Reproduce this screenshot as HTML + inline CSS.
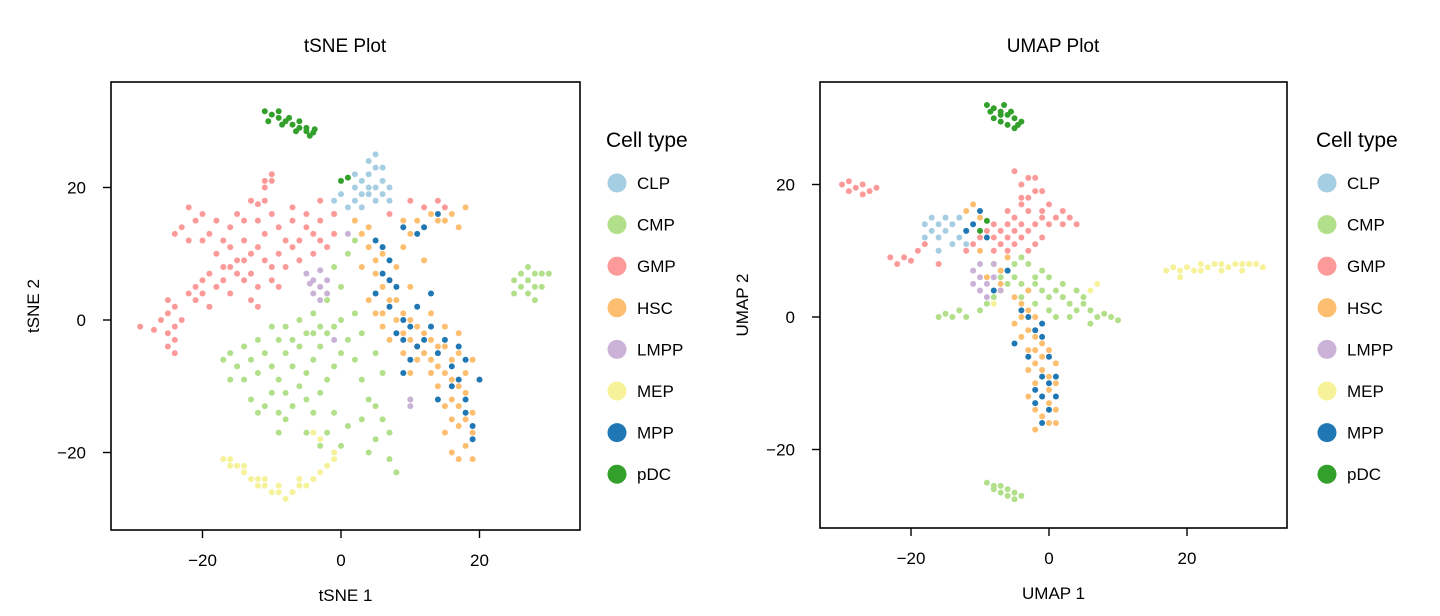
<!DOCTYPE html>
<html><head><meta charset="utf-8"><style>
html,body{margin:0;padding:0;background:#fff;}
svg{display:block;font-family:"Liberation Sans",Arial,sans-serif;}
</style></head><body>
<svg id="chart" width="1440" height="616" viewBox="0 0 1440 616">
<g id="left"></g>
<g id="right"></g>
</svg>
<script>
const cellTypes=["CLP","CMP","GMP","HSC","LMPP","MEP","MPP","pDC"];
const typeColors=["#A6CEE3","#B2DF8A","#FB9A99","#FDBF6F","#CAB2D6","#F5F29A","#1F78B4","#33A02C"];
const tsneTicks=[-20,0,20];
const umapTicks=[-20,0,20];
const tsneCLP=[[2,20],[3,21],[4,22],[5,23],[4,24],[5,25],[3,19],[4,19],[5,20],[6,21],[6,19],[2,18],[1,17],[-1,18],[3,17],[5,18],[7,20],[6,23],[4,20],[2,22],[0,19],[-1,16],[7,18]];
const tsneCMP=[[-17,-6],[-15,-7],[-13,-6],[-12,-8],[-14,-9],[-16,-9],[-11,-5],[-10,-7],[-9,-9],[-8,-11],[-10,-11],[-11,-13],[-9,-14],[-7,-13],[-6,-10],[-5,-8],[-4,-6],[-3,-4],[-2,-2],[-1,-1],[-3,-1],[-5,-2],[-7,-3],[-8,-1],[-6,0],[-4,1],[-2,3],[0,5],[-1,8],[1,10],[2,12],[-8,-5],[-9,-3],[-7,-7],[-5,-12],[-4,-14],[-3,-11],[-2,-9],[-1,-7],[0,-5],[1,-3],[2,-6],[3,-9],[4,-12],[5,-13],[6,-15],[7,-17],[7,-21],[8,-23],[3,-15],[1,-16],[0,-19],[-2,-17],[-1,-14],[-5,-17],[-3,-19],[-12,-14],[-13,-12],[-9,-17],[-8,-15],[-6,-4],[-4,-2],[0,0],[2,1],[3,-2],[5,-5],[6,-8],[5,-18],[4,-20],[-10,-1],[-12,-3],[-14,-4],[-16,-5],[25,6],[26,5],[27,4],[28,5],[27,6],[28,7],[29,7],[30,7],[26,7],[28,3],[27,8],[29,5],[25,4]];
const tsneGMP=[[-29,-1],[-27,-1.5],[-26,0],[-25,-2],[-24,-1],[-25,1],[-24,2],[-25,3],[-23,0],[-24,-3],[-25,-4],[-24,-5],[-22,4],[-21,5],[-20,6],[-19,7],[-20,4],[-18,5],[-17,6],[-16,8],[-15,9],[-14,9],[-13,10],[-12,11],[-11,9],[-13,7],[-12,5],[-10,8],[-9,10],[-8,12],[-7,11],[-6,12],[-5,14],[-4,13],[-3,12],[-2,11],[-1,13],[-6,9],[-8,8],[-15,7],[-17,8],[-18,10],[-16,11],[-14,12],[-11,13],[-9,14],[-7,15],[-5,16],[-3,15],[-1,16],[-10,16],[-12,15],[-14,15],[-16,14],[-18,15],[-20,16],[-22,17],[-21,15],[-19,13],[-23,14],[-24,13],[-22,12],[-20,12],[-17,12],[-15,16],[-13,18],[-12,17.5],[-11,18],[-10,21],[-11,21],[-10,22],[-11,20],[-16,4],[-14,6],[-10,6],[-9,5],[-12,2],[-13,3],[-21,3],[-19,2],[-7,17],[-3,18],[-4,10],[10,18],[12,17],[14,18],[15,17],[7,16]];
const tsneHSC=[[3,13],[4,11],[5,9],[6,10],[5,7],[6,5],[7,3],[6,1],[8,0],[9,-2],[10,-3],[11,-4],[12,-5],[13,-6],[14,-7],[15,-8],[16,-9],[17,-10],[18,-11],[17,-13],[18,-15],[19,-17],[18,-19],[17,-21],[19,-21],[16,-20],[15,-17],[16,-15],[17,-16],[18,-8],[19,-6],[17,-5],[15,-4],[13,-3],[11,-1],[9,1],[7,6],[8,8],[9,11],[10,13],[12,14],[14,15],[16,16],[13,16],[11,15],[9,15],[8,3],[10,0],[12,-2],[14,-4],[16,-6],[14,-10],[15,-13],[16,-12],[13,-8],[11,-6],[10,-8],[4,3],[5,1],[6,-1],[7,-3],[9,-5],[19,-14],[20,-9],[3,8],[2,15],[4,14],[17,14],[18,17],[15,15],[12,9],[10,5],[13,1],[15,-1],[17,-2]];
const tsneLMPP=[[-5,7],[-4,6],[-3,5],[-4,4],[-3,3],[-2,6],[-3,7.5],[-4.5,5.5],[-2,4],[1,13],[10,-12],[10,-13],[-1,-3]];
const tsneMEP=[[-17,-21],[-16,-22],[-15,-22],[-14,-23],[-13,-24],[-12,-25],[-11,-25],[-10,-26],[-9,-26],[-8,-27],[-7,-26],[-6,-25],[-5,-25],[-4,-24],[-3,-23],[-2,-22],[-1,-21],[-1,-20],[-4,-17],[-3,-18],[-14,-22],[-11,-24],[-9,-25],[-6,-24],[-16,-21],[-12,-24]];
const tsneMPP=[[5,12],[6,11],[7,9],[6,7],[8,5],[7,2],[9,0],[10,-1],[12,-3],[14,-5],[16,-7],[17,-9],[18,-12],[18,-14],[19,-16],[19,-18],[20,-9],[15,-3],[13,-1],[11,-4],[9,-3],[12,14],[11,13],[14,16],[9,14],[8,-2],[10,-6],[14,-12],[16,-10],[17,-4],[18,-6],[7,6],[5,4],[11,2],[13,4],[9,-8]];
const tsnePDC=[[-11,31.5],[-10,31],[-9,30.5],[-8,30],[-7,29.5],[-6,29],[-5,28.5],[-4,28.3],[-10.5,30],[-8.5,29.5],[-6.5,28.5],[-5,29],[-7.5,30.5],[-9,31.5],[-4.5,27.8],[-6,30],[-3.8,28.8],[0,21],[1,21.5]];
const umapCLP=[[-18,14],[-17,15],[-16,14],[-15,13],[-14,14],[-13,12],[-12,13],[-17,13],[-16,12],[-14,11],[-18,12],[-15,15],[-13,15],[-12,11],[-16,10]];
const umapCMP=[[-16,0],[-15,0.5],[-14,0],[-13,1],[-12,0],[-10,1],[-9,2],[-8,3],[-7,4],[-6,5],[-5,6],[-4,5],[-3,4],[-2,5],[-1,4],[0,3],[1,4],[2,3],[3,2],[4,1],[5,2],[6,1],[7,0],[8,0.5],[9,0],[10,-0.5],[-4,3],[-2,2],[0,1],[2,5],[4,4],[-1,7],[-3,8],[-5,8],[-6,7],[3,0],[6,-1],[1,0],[-7,6],[-4,9],[-2,6],[5,3],[0,6],[-9,-25],[-8,-26],[-7,-26.5],[-6,-27],[-5,-27.5],[-8,-25.5],[-6,-26],[-7,-25.5],[-5,-26.5],[-4,-27]];
const umapGMP=[[-30,20],[-29,19],[-28,19.5],[-27,20],[-26,19],[-25,19.5],[-29,20.5],[-27,18.5],[-23,9],[-22,8],[-21,9],[-20,8.5],[-19,10],[-18,11],[-16,8],[-8,14],[-7,13],[-6,12],[-5,11],[-4,12],[-3,13],[-2,14],[-1,15],[0,14],[1,15],[2,14],[3,15],[4,14],[-5,15],[-4,17],[-3,18],[-2,19],[-1,16],[-4,20],[-3,21],[-5,22],[-2,21],[-6,16],[-7,11],[-8,10],[-6,10],[-3,10],[-1,12],[-9,13],[-10,12],[-11,11],[-12,10],[0,17],[2,16],[-2,11],[-4,14],[-6,14],[-8,12],[-5,13],[-3,16],[-1,19],[-4,18]];
const umapHSC=[[-5,3],[-4,2],[-3,1],[-2,0],[-4,0],[-3,-2],[-2,-3],[-1,-4],[0,-5],[-3,-5],[-2,-7],[-1,-8],[0,-9],[1,-10],[-2,-10],[-1,-12],[0,-13],[-2,-14],[-1,-15],[0,-16],[1,-14],[-3,-12],[-1,-6],[-4,-3],[-3,-8],[0,-11],[1,-7],[-2,-5],[-5,-1],[-3,4],[-2,-17],[-11,17],[-10,15],[-12,16],[-8,8],[-9,6],[-7,5],[-10,10],[-7,7],[-6,9],[1,-16]];
const umapLMPP=[[-11,7],[-10,6],[-9,5],[-8,6],[-10,4],[-9,3],[-11,5],[-7,4],[-8,8],[-10,8]];
const umapMEP=[[17,7],[18,7.5],[19,7],[20,7.5],[21,7],[22,8],[23,7.5],[24,8],[25,8],[26,7.5],[27,8],[28,8],[29,8],[30,8],[31,7.5],[19,6],[22,7],[25,7],[28,7],[6,4],[7,5],[-8,2]];
const umapMPP=[[-4,1],[-3,0],[-2,-2],[-1,-3],[0,-6],[-1,-9],[0,-10],[-2,-11],[0,-14],[-1,-16],[-2,-13],[1,-12],[-3,-6],[-1,-1],[-10,16],[-11,14],[-9,12],[-6,7],[-8,4],[-12,13],[-5,-4],[1,-9],[-1,-12]];
const umapPDC=[[-9,32],[-8,31.5],[-7,31],[-6,30.5],[-5,30],[-4.5,29],[-6,29],[-7,29.5],[-8,30],[-8.5,31],[-6.5,32],[-5.5,31],[-5,28.5],[-7,30.5],[-4,29.5],[-9,14.5],[-10,13]];

const NS="http://www.w3.org/2000/svg";
function mk(tag,attrs,parent,text){const e=document.createElementNS(NS,tag);for(const k in attrs)e.setAttribute(k,attrs[k]);if(text!==undefined)e.textContent=text;parent.appendChild(e);return e;}

function panel(g,cfg,series,prefix){
  const xs=v=>cfg.x0+v*cfg.kx, ys=v=>cfg.y0-v*cfg.ky;
  const t=mk("text",{x:cfg.titleX,y:52,"text-anchor":"middle","font-size":19},g,cfg.title);
  
  
  const pts=mk("g",{},g);
  
  
  series.forEach((arr,i)=>{
    const sg=mk("g",{fill:typeColors[i]},pts);
    
    
    arr.forEach(p=>{mk("circle",{cx:xs(p[0]).toFixed(1),cy:ys(p[1]).toFixed(1),r:3},sg);});
  });
  const box=mk("rect",{x:cfg.bx,y:cfg.by,width:cfg.bw,height:cfg.bh,fill:"none",stroke:"#000","stroke-width":1.6},g);
  
  
  const bottom=cfg.by+cfg.bh;
  const xa=mk("g",{"font-size":17},g);
  
  
  cfg.ticks.forEach(v=>{
    const x=xs(v);
    mk("line",{x1:x,x2:x,y1:bottom,y2:bottom+8,stroke:"#000","stroke-width":1.4},xa);
    mk("text",{x:x,y:bottom+36,"text-anchor":"middle"},xa,v<0?"\u2212"+(-v):String(v));
  });
  const ya=mk("g",{"font-size":17},g);
  
  
  cfg.ticks.forEach(v=>{
    const y=ys(v);
    mk("line",{x1:cfg.bx-8,x2:cfg.bx,y1:y,y2:y,stroke:"#000","stroke-width":1.4},ya);
    mk("text",{x:cfg.bx-25,y:y+6,"text-anchor":"end"},ya,v<0?"\u2212"+(-v):String(v));
  });
  const xt=mk("text",{x:cfg.bx+cfg.bw/2,y:bottom+71,"text-anchor":"middle","font-size":17},g,cfg.xlab);
  
  
  const ylx=cfg.bx-72, yly=cfg.by+cfg.bh/2;
  const yt=mk("text",{x:ylx,y:yly,"text-anchor":"middle","font-size":17,transform:`rotate(-90 ${ylx} ${yly})`},g,cfg.ylab);
  
  
  const lg=mk("g",{},g);
  
  
  mk("text",{x:cfg.lx-11,y:147,"font-size":21},lg,"Cell type");
  cellTypes.forEach((c,i)=>{
    const y=183+i*41.6;
    const e=mk("g",{},lg);
    
    
    mk("circle",{cx:cfg.lx,cy:y,r:9.5,fill:typeColors[i]},e);
    mk("text",{x:cfg.lx+20,y:y+6,"font-size":17},e,c);
  });
}
panel(document.getElementById("left"),{x0:341,kx:6.925,y0:320,ky:6.625,bx:111,by:82,bw:469,bh:448,title:"tSNE Plot",titleX:345,xlab:"tSNE 1",ylab:"tSNE 2",lx:617,ticks:tsneTicks},
 [tsneCLP,tsneCMP,tsneGMP,tsneHSC,tsneLMPP,tsneMEP,tsneMPP,tsnePDC],"tsne");
panel(document.getElementById("right"),{x0:1049,kx:6.9,y0:317,ky:6.625,bx:820,by:82,bw:467,bh:446,title:"UMAP Plot",titleX:1053,xlab:"UMAP 1",ylab:"UMAP 2",lx:1327,ticks:umapTicks},
 [umapCLP,umapCMP,umapGMP,umapHSC,umapLMPP,umapMEP,umapMPP,umapPDC],"umap");
</script>
</body></html>
